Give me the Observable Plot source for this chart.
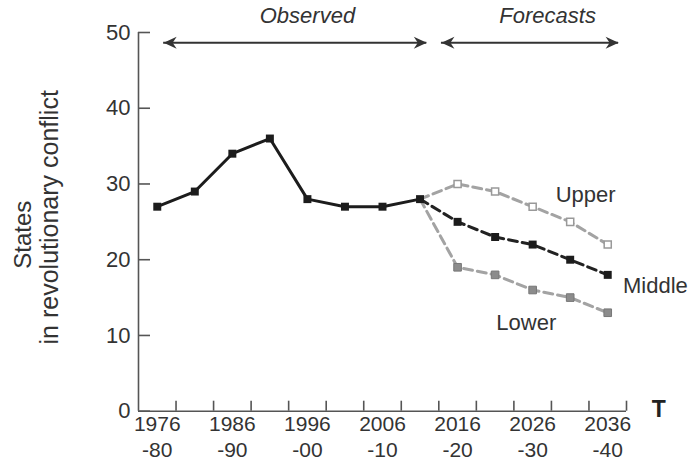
<!DOCTYPE html>
<html>
<head>
<meta charset="utf-8">
<script src="https://cdn.jsdelivr.net/npm/d3@7"></script>
<script src="https://cdn.jsdelivr.net/npm/@observablehq/plot@0.6"></script>
<style>
  html, body { margin: 0; padding: 0; background: #fff; }
  #chart { width: 689px; height: 465px; }
</style>
</head>
<body>
<div id="chart"></div>
<script>
// ---- data ----
const periods = ["1976-80","1981-85","1986-90","1991-95","1996-00","2001-05","2006-10",
                 "2011-15","2016-20","2021-25","2026-30","2031-35","2036-40"];
const tickLabels = ["1976\n-80","1986\n-90","1996\n-00","2006\n-10","2016\n-20","2026\n-30","2036\n-40"];
const observed = [27, 29, 34, 36, 28, 27, 27, 28];
const upper  = [30, 29, 27, 25, 22];
const middle = [25, 23, 22, 20, 18];
const lower  = [19, 18, 16, 15, 13];
const yTicks = [0, 10, 20, 30, 40, 50];

// ---- annotations ----
const spans = [
  {label: "Observed",  from: 0.17, to: 7.18, mid: 4.0},
  {label: "Forecasts", from: 7.57, to: 12.29, mid: 10.4}
];
const spanY = 48.65, spanLabelY = 52.25;
const seriesLabels = [
  {name: "Upper",  x: 11.41, y: 28.5},
  {name: "Middle", x: 13.27, y: 16.6},
  {name: "Lower",  x: 9.83,  y: 11.6}
];

// ---- build tables ----
const obsRows = observed.map((v, i) => ({i, v, period: periods[i]}));
const start = observed.length - 1;
const fc = (arr) => [{i: start, v: observed[start]}, ...arr.map((v, k) => ({i: start + 1 + k, v, period: periods[start + 1 + k]}))];
const upRows = fc(upper), midRows = fc(middle), lowRows = fc(lower);
const boundaries = d3.range(0.5, periods.length, 1);
const labelIdx = d3.range(0, periods.length, 2);

const headRight = {draw(c) { c.moveTo(0, 0); c.lineTo(-13, -6); c.lineTo(-9, 0); c.lineTo(-13, 6); c.closePath(); }};
const headLeft  = {draw(c) { c.moveTo(0, 0); c.lineTo(13, -6); c.lineTo(9, 0); c.lineTo(13, 6); c.closePath(); }};

const axisColor = "#555";
const textColor = "#333";
const gray = "#a3a3a3";

const chart = Plot.plot({
  width: 689,
  height: 465,
  marginLeft: 138,
  marginRight: 63,
  marginTop: 32,
  marginBottom: 54.3,
  style: {fontFamily: "'Liberation Sans', Arial, Helvetica, sans-serif", background: "#fff", color: textColor},
  x: {type: "linear", domain: [-0.5, periods.length - 0.5]},
  y: {domain: [0, 50]},
  marks: [
    // axes lines
    Plot.ruleY([0], {x1: -0.5, x2: periods.length - 0.5, stroke: axisColor, strokeWidth: 1.6}),
    Plot.ruleX([-0.5], {y1: 0, y2: 50, stroke: axisColor, strokeWidth: 1.6}),
    // inward ticks
    Plot.axisX(boundaries, {tickSize: -10, tickFormat: () => "", stroke: axisColor, strokeWidth: 1.6, label: null}),
    Plot.axisY(yTicks, {tickSize: -12, tickFormat: () => "", stroke: axisColor, strokeWidth: 1.6, label: null}),
    // tick labels
    Plot.axisX(labelIdx, {tickSize: 0, tickPadding: 1, tickFormat: (d) => tickLabels[d / 2], fontSize: 21, lineHeight: 1.25, fill: textColor, label: null}),
    Plot.axisY(yTicks, {tickSize: 0, tickPadding: 8, fontSize: 22, fill: textColor, label: null}),
    // forecast lines
    Plot.line(upRows,  {x: "i", y: "v", stroke: gray, strokeWidth: 3, strokeDasharray: "9,5"}),
    Plot.line(lowRows, {x: "i", y: "v", stroke: gray, strokeWidth: 3, strokeDasharray: "9,5"}),
    Plot.line(midRows, {x: "i", y: "v", stroke: "#222", strokeWidth: 3, strokeDasharray: "9,5"}),
    // observed
    Plot.line(obsRows, {x: "i", y: "v", stroke: "#1c1c1c", strokeWidth: 3}),
    // markers
    Plot.dot(upRows.slice(1),  {x: "i", y: "v", symbol: "square", r: 4, fill: "#fff", stroke: "#999", strokeWidth: 1.5}),
    Plot.dot(lowRows.slice(1), {x: "i", y: "v", symbol: "square", r: 4.3, fill: "#8c8c8c", stroke: "#777", strokeWidth: 1}),
    Plot.dot(midRows.slice(1), {x: "i", y: "v", symbol: "square", r: 4.5, fill: "#1c1c1c", stroke: "none"}),
    Plot.dot(obsRows, {x: "i", y: "v", symbol: "square", r: 4.5, fill: "#1c1c1c", stroke: "none"}),
    // period arrows
    Plot.ruleY(spans, {y: spanY, x1: "from", x2: "to", stroke: "#333", strokeWidth: 2}),
    Plot.dot(spans, {x: "to", y: spanY, symbol: headRight, fill: "#333", stroke: "none"}),
    Plot.dot(spans, {x: "from", y: spanY, symbol: headLeft, fill: "#333", stroke: "none"}),
    Plot.text(spans, {x: "mid", y: spanLabelY, text: "label", fontSize: 22, fontStyle: "italic", fill: textColor}),
    // series labels
    Plot.text(seriesLabels, {x: "x", y: "y", text: "name", fontSize: 22, fill: textColor}),
    // axis titles
    Plot.text(["T"], {x: 13.36, y: 0.16, text: (d) => d, fontSize: 23, fontWeight: "bold", fill: "#222"}),
    Plot.text(["States"], {x: -3.58, y: 23.3, text: (d) => d, rotate: -90, fontSize: 24, fill: textColor}),
    Plot.text(["in revolutionary conflict"], {x: -2.86, y: 25.6, text: (d) => d, rotate: -90, fontSize: 25, fill: textColor})
  ]
});
document.getElementById("chart").appendChild(chart);
</script>
</body>
</html>
